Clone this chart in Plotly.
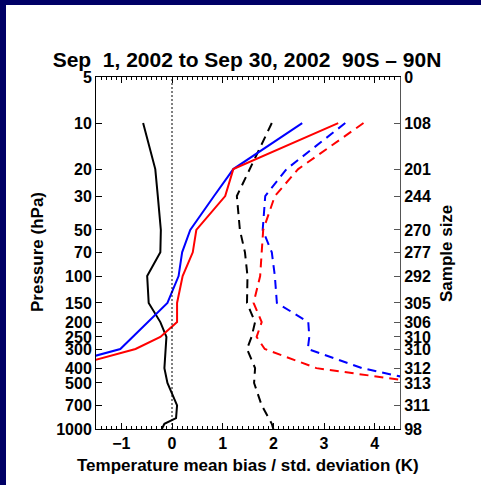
import plotly.graph_objects as go

# Pressure levels (hPa) of the profiles
pressure = [10, 20, 30, 50, 70, 100, 150, 200, 250, 300, 400, 500, 700, 850, 925, 1000]

# Black: mean bias (solid) and std. deviation (dashed)
black_bias = [-0.57, -0.33, -0.28, -0.22, -0.23, -0.49, -0.46, -0.23, -0.11, -0.13, -0.15, -0.09, 0.10, 0.08, -0.15, -0.20]
black_std = [1.97, 1.54, 1.28, 1.34, 1.44, 1.49, 1.48, 1.64, 1.57, 1.48, 1.64, 1.62, 1.77, 1.91, 1.97, 2.00]

# Blue: mean bias (solid) and std. deviation (dashed)
blue_bias = [2.57, 1.21, 0.83, 0.36, 0.20, 0.13, -0.09, -0.47, -0.76, -1.02, -2.4]
blue_std = [3.42, 2.26, 1.84, 1.79, 1.97, 2.03, 2.07, 2.69, 2.71, 2.68, 3.75, 5.1]

# Red: mean bias (solid) and std. deviation (dashed)
red_bias = [3.28, 1.21, 1.05, 0.48, 0.41, 0.21, 0.10, 0.10, -0.23, -0.72, -2.1]
red_std = [3.78, 2.49, 2.03, 1.80, 1.77, 1.74, 1.61, 1.77, 1.67, 1.83, 2.85, 4.95]

# Axis tick levels and sample sizes
tick_levels = [5, 10, 20, 30, 50, 70, 100, 150, 200, 250, 300, 400, 500, 700, 1000]
tick_labels = [str(v) for v in tick_levels]
sample_size = ["0", "108", "201", "244", "270", "277", "292", "305", "306", "310", "310", "312", "313", "311", "98"]

title_text = "Sep\u00a0\u00a01, 2002 to Sep 30, 2002\u00a0\u00a090S \u2013 90N"

FONT = "Liberation Sans, Arial, Helvetica, sans-serif"
NAVY = "#000066"
W, H = 481, 485
L, R, T, B = 96, 81, 77, 56
PW, PH = W - L - R, H - T - B

def px(xp):
    return (xp - L) / PW

def py(yp):
    return (H - B - yp) / PH

fig = go.Figure()

def add(xv, n, color, dash):
    fig.add_trace(go.Scatter(
        x=xv, y=pressure[:n], mode="lines",
        line=dict(color=color, width=2, dash=dash),
        showlegend=False, hoverinfo="skip"))

add(black_bias, len(black_bias), "black", "solid")
add(black_std, len(black_std), "black", "9px,6px")
add(blue_bias, len(blue_bias), "#0000ff", "solid")
add(blue_std, len(blue_std), "#0000ff", "9px,6px")
add(red_bias, len(red_bias), "#ff0000", "solid")
add(red_std, len(red_std), "#ff0000", "9px,6px")

# invisible trace to anchor right axis
fig.add_trace(go.Scatter(x=[None], y=[None], yaxis="y2", showlegend=False, hoverinfo="skip"))

tickfont = dict(family=FONT, size=16, color="black", weight="bold")

fig.update_layout(
    width=W, height=H, autosize=False,
    margin=dict(l=L, r=R, t=T, b=B, pad=0),
    paper_bgcolor="white", plot_bgcolor="white",
    font=dict(family=FONT, color="black"),
    title=dict(text=title_text, x=247 / W, xanchor="center", xref="container",
               y=1 - 60 / H, yanchor="middle", yref="container",
               font=dict(family=FONT, size=21, color="black", weight="bold")),
    xaxis=dict(range=[-1.5, 4.5], tickvals=[-1, 0, 1, 2, 3, 4], ticks="inside", ticklen=6,
               tickcolor="black", showline=True, linecolor="black", linewidth=1,
               mirror="ticks", showgrid=False, zeroline=False, tickfont=tickfont,
               minor=dict(dtick=0.1, tick0=0, ticks="inside", ticklen=3, tickcolor="black", showgrid=False)),
    yaxis=dict(type="log", range=[3, 0.69897], tickvals=tick_levels, ticktext=tick_labels,
               ticks="inside", ticklen=6, tickcolor="black", showline=True, linecolor="black",
               linewidth=1, showgrid=False, zeroline=False, tickfont=tickfont),
    yaxis2=dict(type="log", range=[3, 0.69897], overlaying="y", side="right",
                tickvals=tick_levels, ticktext=sample_size, ticks="inside", ticklen=6,
                tickcolor="#555", showline=True, linecolor="#555", linewidth=1,
                showgrid=False, zeroline=False, tickfont=tickfont),
)

# zero reference line
fig.add_shape(type="line", xref="x", yref="paper", x0=0, x1=0, y0=0, y1=1,
              line=dict(color="black", width=1, dash="2px,2px"))

# navy frame strips
fig.add_shape(type="rect", xref="paper", yref="paper", x0=px(-5), x1=px(6), y0=py(H + 5), y1=py(-5),
              fillcolor=NAVY, line=dict(width=0), layer="below")
fig.add_shape(type="rect", xref="paper", yref="paper", x0=px(-5), x1=px(W + 5), y0=py(5), y1=py(-5),
              fillcolor=NAVY, line=dict(width=0), layer="below")

titlefont = dict(family=FONT, size=17, color="black", weight="bold")
fig.add_annotation(text="Pressure (hPa)", xref="paper", yref="paper", x=px(37), y=py(252),
                   textangle=-90, showarrow=False, xanchor="center", yanchor="middle", font=titlefont)
fig.add_annotation(text="Sample size", xref="paper", yref="paper", x=px(446), y=py(254),
                   textangle=-90, showarrow=False, xanchor="center", yanchor="middle", font=titlefont)
fig.add_annotation(text="Temperature mean bias / std. deviation (K)", xref="paper", yref="paper",
                   x=px(248), y=py(465), showarrow=False, xanchor="center", yanchor="middle", font=titlefont)

fig.write_html("out.html")
